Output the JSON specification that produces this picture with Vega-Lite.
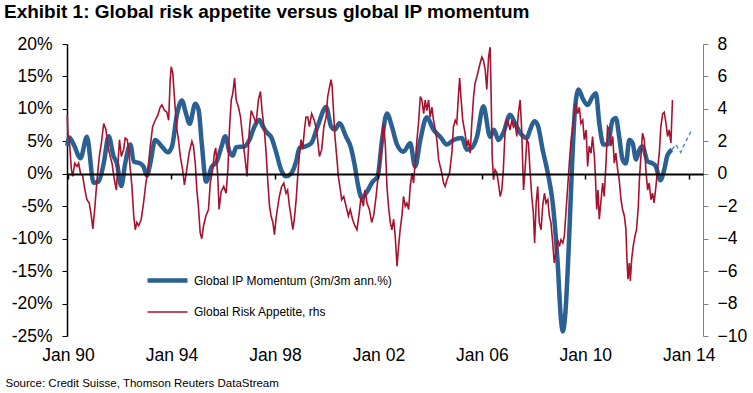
{
"$schema": "https://vega.github.io/schema/vega-lite/v6.json",
"width": 636, "height": 292,
"autosize": {"type": "none"},
"padding": {"left": 67, "top": 44, "right": 50, "bottom": 57},
"background": "white",
"config": {
  "view": {"stroke": null},
  "font": "Liberation Sans",
  "axis": {"grid": false, "labelFont": "Liberation Sans", "labelColor": "#000", "labelFontSize": 17.5, "labelOverlap": false},
  "legend": {"orient": "none", "legendX": 78, "legendY": 214, "symbolType": "stroke", "symbolSize": 1600, "labelFont": "Liberation Sans", "labelFontSize": 12, "labelColor": "#000", "labelOffset": 4, "labelLimit": 400, "rowPadding": 1}
},
"title": {"text": "Exhibit 1: Global risk appetite versus global IP momentum", "anchor": "start", "frame": "group", "orient": "top", "dx": -63, "offset": -2, "baseline": "alphabetic", "font": "Liberation Sans", "fontSize": 19, "fontWeight": "bold", "color": "#000"},
"datasets": {
"ip": [{"t":1989.97,"v":4.3},{"t":1990.05,"v":5.6},{"t":1990.22,"v":4.5},{"t":1990.48,"v":2.4},{"t":1990.73,"v":5.7},{"t":1990.99,"v":-1.4},{"t":1991.18,"v":-1.2},{"t":1991.38,"v":1.6},{"t":1991.57,"v":5.8},{"t":1991.76,"v":2.7},{"t":1991.89,"v":1.6},{"t":1992.06,"v":-1.9},{"t":1992.21,"v":1.6},{"t":1992.41,"v":4.5},{"t":1992.54,"v":1.9},{"t":1992.79,"v":1.6},{"t":1992.92,"v":1.1},{"t":1993.05,"v":-0.3},{"t":1993.18,"v":1.6},{"t":1993.37,"v":5.2},{"t":1993.63,"v":4.2},{"t":1993.86,"v":3.3},{"t":1994.02,"v":4.2},{"t":1994.21,"v":9.1},{"t":1994.40,"v":11.3},{"t":1994.56,"v":9.3},{"t":1994.70,"v":7.7},{"t":1994.92,"v":10.8},{"t":1995.05,"v":9.8},{"t":1995.17,"v":4.7},{"t":1995.34,"v":-1.2},{"t":1995.56,"v":1.1},{"t":1995.75,"v":1.9},{"t":1995.92,"v":4.0},{"t":1996.08,"v":5.8},{"t":1996.24,"v":3.4},{"t":1996.37,"v":2.8},{"t":1996.50,"v":4.1},{"t":1996.82,"v":4.2},{"t":1997.01,"v":5.2},{"t":1997.21,"v":7.3},{"t":1997.40,"v":8.3},{"t":1997.53,"v":7.3},{"t":1997.72,"v":6.2},{"t":1997.85,"v":5.7},{"t":1998.04,"v":3.4},{"t":1998.24,"v":0.6},{"t":1998.43,"v":-0.4},{"t":1998.62,"v":0.0},{"t":1998.82,"v":1.9},{"t":1998.95,"v":4.0},{"t":1999.16,"v":4.2},{"t":1999.40,"v":4.7},{"t":1999.65,"v":7.3},{"t":1999.98,"v":10.3},{"t":2000.17,"v":7.3},{"t":2000.32,"v":6.8},{"t":2000.49,"v":7.8},{"t":2000.75,"v":5.7},{"t":2000.94,"v":4.0},{"t":2001.07,"v":1.6},{"t":2001.22,"v":-1.9},{"t":2001.35,"v":-3.7},{"t":2001.52,"v":-3.0},{"t":2001.78,"v":-1.2},{"t":2001.97,"v":-0.4},{"t":2002.14,"v":5.2},{"t":2002.33,"v":9.3},{"t":2002.52,"v":7.3},{"t":2002.72,"v":4.5},{"t":2002.97,"v":3.4},{"t":2003.23,"v":4.7},{"t":2003.42,"v":1.1},{"t":2003.62,"v":5.2},{"t":2003.87,"v":8.7},{"t":2004.13,"v":6.8},{"t":2004.39,"v":5.7},{"t":2004.65,"v":4.5},{"t":2004.90,"v":5.2},{"t":2005.23,"v":5.5},{"t":2005.42,"v":3.7},{"t":2005.61,"v":4.0},{"t":2005.81,"v":5.7},{"t":2006.06,"v":10.4},{"t":2006.32,"v":5.7},{"t":2006.47,"v":6.8},{"t":2006.64,"v":5.2},{"t":2006.83,"v":6.3},{"t":2007.09,"v":9.1},{"t":2007.28,"v":7.8},{"t":2007.48,"v":6.3},{"t":2007.74,"v":5.5},{"t":2007.84,"v":6.5},{"t":2008.03,"v":8.1},{"t":2008.16,"v":7.5},{"t":2008.35,"v":3.7},{"t":2008.55,"v":0.1},{"t":2008.74,"v":-4.5},{"t":2008.93,"v":-13.7},{"t":2009.06,"v":-22.5},{"t":2009.13,"v":-24.3},{"t":2009.23,"v":-21.4},{"t":2009.36,"v":-11.2},{"t":2009.49,"v":1.6},{"t":2009.61,"v":10.4},{"t":2009.74,"v":13.0},{"t":2009.90,"v":11.6},{"t":2010.09,"v":10.6},{"t":2010.28,"v":11.9},{"t":2010.41,"v":12.4},{"t":2010.54,"v":7.8},{"t":2010.70,"v":4.5},{"t":2010.86,"v":4.5},{"t":2011.06,"v":8.3},{"t":2011.18,"v":8.6},{"t":2011.31,"v":5.7},{"t":2011.44,"v":2.2},{"t":2011.57,"v":1.6},{"t":2011.70,"v":5.2},{"t":2011.83,"v":4.7},{"t":2011.96,"v":2.2},{"t":2012.09,"v":3.7},{"t":2012.21,"v":4.2},{"t":2012.41,"v":1.9},{"t":2012.60,"v":1.6},{"t":2012.73,"v":1.1},{"t":2012.90,"v":-1.0},{"t":2013.05,"v":0.6},{"t":2013.18,"v":2.9},{"t":2013.35,"v":3.7}],
"ipf": [{"t":2013.35,"v":3.7},{"t":2013.50,"v":4.5},{"t":2013.69,"v":3.3},{"t":2013.89,"v":5.0},{"t":2014.08,"v":6.5}],
"ra": [{"t":1989.97,"v":3.6},{"t":1990.00,"v":2.3},{"t":1990.05,"v":2.1},{"t":1990.13,"v":0.25},{"t":1990.18,"v":-0.16},{"t":1990.26,"v":0.65},{"t":1990.35,"v":0.45},{"t":1990.41,"v":0.65},{"t":1990.48,"v":0.04},{"t":1990.57,"v":-0.16},{"t":1990.64,"v":-0.88},{"t":1990.73,"v":-1.6},{"t":1990.82,"v":-1.8},{"t":1990.90,"v":-2.6},{"t":1990.96,"v":-3.4},{"t":1991.03,"v":-2.2},{"t":1991.12,"v":-0.37},{"t":1991.21,"v":1.07},{"t":1991.29,"v":1.9},{"t":1991.38,"v":3.1},{"t":1991.47,"v":2.7},{"t":1991.54,"v":1.7},{"t":1991.63,"v":1.07},{"t":1991.70,"v":0.65},{"t":1991.79,"v":-0.37},{"t":1991.87,"v":-1.0},{"t":1991.93,"v":0.65},{"t":1991.99,"v":2.1},{"t":1992.06,"v":1.07},{"t":1992.15,"v":1.5},{"t":1992.21,"v":2.2},{"t":1992.29,"v":2.1},{"t":1992.34,"v":1.5},{"t":1992.41,"v":0.25},{"t":1992.47,"v":-0.78},{"t":1992.54,"v":-2.6},{"t":1992.60,"v":-3.45},{"t":1992.66,"v":-3.0},{"t":1992.73,"v":-3.2},{"t":1992.83,"v":-2.8},{"t":1992.92,"v":-1.8},{"t":1993.01,"v":-0.57},{"t":1993.09,"v":0.25},{"t":1993.18,"v":1.7},{"t":1993.27,"v":2.9},{"t":1993.37,"v":3.3},{"t":1993.47,"v":3.6},{"t":1993.56,"v":4.1},{"t":1993.63,"v":4.25},{"t":1993.73,"v":3.9},{"t":1993.82,"v":3.8},{"t":1993.89,"v":3.3},{"t":1993.95,"v":5.8},{"t":1993.99,"v":6.6},{"t":1994.05,"v":6.2},{"t":1994.14,"v":4.1},{"t":1994.21,"v":2.7},{"t":1994.27,"v":2.1},{"t":1994.34,"v":1.07},{"t":1994.43,"v":0.25},{"t":1994.50,"v":-0.68},{"t":1994.59,"v":0.25},{"t":1994.68,"v":1.27},{"t":1994.79,"v":2.0},{"t":1994.85,"v":1.7},{"t":1994.92,"v":0.65},{"t":1994.98,"v":-1.0},{"t":1995.04,"v":-2.0},{"t":1995.11,"v":-3.65},{"t":1995.17,"v":-4.0},{"t":1995.24,"v":-3.2},{"t":1995.33,"v":-2.6},{"t":1995.43,"v":-2.2},{"t":1995.50,"v":-0.57},{"t":1995.59,"v":0.25},{"t":1995.66,"v":1.27},{"t":1995.71,"v":1.6},{"t":1995.79,"v":-0.16},{"t":1995.84,"v":-2.2},{"t":1995.92,"v":-1.1},{"t":1996.02,"v":-0.78},{"t":1996.11,"v":-1.2},{"t":1996.18,"v":0.25},{"t":1996.24,"v":2.7},{"t":1996.31,"v":4.55},{"t":1996.37,"v":4.96},{"t":1996.44,"v":5.9},{"t":1996.50,"v":4.55},{"t":1996.59,"v":4.1},{"t":1996.67,"v":3.5},{"t":1996.76,"v":2.1},{"t":1996.85,"v":0.86},{"t":1996.92,"v":-0.16},{"t":1997.01,"v":2.7},{"t":1997.08,"v":3.9},{"t":1997.18,"v":3.5},{"t":1997.27,"v":3.1},{"t":1997.36,"v":4.55},{"t":1997.44,"v":5.07},{"t":1997.50,"v":3.9},{"t":1997.59,"v":2.7},{"t":1997.66,"v":1.27},{"t":1997.72,"v":-0.37},{"t":1997.79,"v":-2.0},{"t":1997.85,"v":-2.6},{"t":1997.92,"v":-3.0},{"t":1997.98,"v":-3.75},{"t":1998.04,"v":-2.8},{"t":1998.11,"v":-2.0},{"t":1998.17,"v":-1.4},{"t":1998.26,"v":-0.78},{"t":1998.34,"v":-0.57},{"t":1998.43,"v":-1.2},{"t":1998.49,"v":-1.0},{"t":1998.56,"v":-2.0},{"t":1998.62,"v":-2.6},{"t":1998.69,"v":-3.45},{"t":1998.75,"v":-2.8},{"t":1998.82,"v":-1.6},{"t":1998.88,"v":-0.16},{"t":1998.95,"v":1.27},{"t":1999.01,"v":2.1},{"t":1999.07,"v":1.5},{"t":1999.14,"v":2.7},{"t":1999.20,"v":3.5},{"t":1999.27,"v":3.5},{"t":1999.33,"v":2.9},{"t":1999.42,"v":3.7},{"t":1999.52,"v":3.3},{"t":1999.61,"v":2.7},{"t":1999.72,"v":1.07},{"t":1999.81,"v":1.5},{"t":1999.89,"v":2.9},{"t":1999.98,"v":3.5},{"t":2000.04,"v":4.76},{"t":2000.10,"v":5.27},{"t":2000.17,"v":5.8},{"t":2000.21,"v":5.4},{"t":2000.27,"v":3.7},{"t":2000.32,"v":2.3},{"t":2000.40,"v":0.86},{"t":2000.45,"v":-0.16},{"t":2000.53,"v":-1.0},{"t":2000.58,"v":-1.6},{"t":2000.66,"v":-1.4},{"t":2000.75,"v":-2.0},{"t":2000.84,"v":-2.6},{"t":2000.91,"v":-2.2},{"t":2001.00,"v":-2.8},{"t":2001.09,"v":-3.2},{"t":2001.17,"v":-3.45},{"t":2001.26,"v":-2.4},{"t":2001.33,"v":-1.4},{"t":2001.42,"v":-2.0},{"t":2001.48,"v":-1.0},{"t":2001.56,"v":-1.8},{"t":2001.65,"v":-2.2},{"t":2001.74,"v":-3.0},{"t":2001.82,"v":-2.55},{"t":2001.91,"v":-1.4},{"t":2001.97,"v":-0.45},{"t":2002.05,"v":0.65},{"t":2002.14,"v":2.1},{"t":2002.20,"v":3.1},{"t":2002.27,"v":1.7},{"t":2002.33,"v":-0.78},{"t":2002.39,"v":-2.0},{"t":2002.46,"v":-3.0},{"t":2002.52,"v":-3.45},{"t":2002.59,"v":-2.8},{"t":2002.65,"v":-3.85},{"t":2002.72,"v":-5.7},{"t":2002.78,"v":-4.5},{"t":2002.84,"v":-3.45},{"t":2002.91,"v":-2.6},{"t":2002.97,"v":-1.4},{"t":2003.04,"v":-2.0},{"t":2003.10,"v":-1.8},{"t":2003.17,"v":-2.2},{"t":2003.23,"v":-0.78},{"t":2003.30,"v":0.04},{"t":2003.36,"v":-0.57},{"t":2003.42,"v":0.65},{"t":2003.49,"v":2.1},{"t":2003.55,"v":3.1},{"t":2003.62,"v":4.76},{"t":2003.68,"v":4.55},{"t":2003.75,"v":3.7},{"t":2003.81,"v":4.55},{"t":2003.87,"v":3.9},{"t":2003.94,"v":4.55},{"t":2004.00,"v":3.5},{"t":2004.07,"v":4.1},{"t":2004.13,"v":3.3},{"t":2004.20,"v":2.7},{"t":2004.26,"v":2.1},{"t":2004.33,"v":0.86},{"t":2004.39,"v":0.45},{"t":2004.45,"v":0.04},{"t":2004.52,"v":-0.57},{"t":2004.58,"v":-0.78},{"t":2004.65,"v":-0.37},{"t":2004.75,"v":0.04},{"t":2004.84,"v":1.27},{"t":2004.90,"v":2.9},{"t":2004.97,"v":3.3},{"t":2005.03,"v":3.1},{"t":2005.10,"v":4.96},{"t":2005.14,"v":5.9},{"t":2005.19,"v":4.76},{"t":2005.26,"v":3.3},{"t":2005.35,"v":2.5},{"t":2005.42,"v":1.7},{"t":2005.48,"v":2.1},{"t":2005.55,"v":1.27},{"t":2005.61,"v":3.1},{"t":2005.68,"v":4.76},{"t":2005.74,"v":5.6},{"t":2005.81,"v":6.0},{"t":2005.87,"v":6.4},{"t":2005.93,"v":6.8},{"t":2006.00,"v":7.2},{"t":2006.06,"v":7.0},{"t":2006.13,"v":6.4},{"t":2006.19,"v":5.2},{"t":2006.26,"v":7.2},{"t":2006.32,"v":7.8},{"t":2006.36,"v":4.76},{"t":2006.40,"v":1.07},{"t":2006.45,"v":-0.37},{"t":2006.51,"v":0.25},{"t":2006.58,"v":0.04},{"t":2006.64,"v":-0.57},{"t":2006.71,"v":-1.4},{"t":2006.77,"v":-1.0},{"t":2006.83,"v":0.25},{"t":2006.90,"v":2.7},{"t":2006.96,"v":3.3},{"t":2007.03,"v":3.1},{"t":2007.09,"v":2.7},{"t":2007.16,"v":3.3},{"t":2007.22,"v":2.9},{"t":2007.29,"v":3.1},{"t":2007.35,"v":2.3},{"t":2007.41,"v":3.7},{"t":2007.48,"v":4.55},{"t":2007.54,"v":2.7},{"t":2007.61,"v":-1.0},{"t":2007.67,"v":0.25},{"t":2007.74,"v":2.1},{"t":2007.80,"v":1.9},{"t":2007.86,"v":0.25},{"t":2007.93,"v":-1.4},{"t":2007.99,"v":-2.4},{"t":2008.04,"v":-4.27},{"t":2008.10,"v":-1.8},{"t":2008.16,"v":-0.78},{"t":2008.22,"v":-3.0},{"t":2008.29,"v":-3.45},{"t":2008.35,"v":-2.0},{"t":2008.42,"v":-1.2},{"t":2008.48,"v":-1.8},{"t":2008.55,"v":-1.6},{"t":2008.61,"v":-2.6},{"t":2008.67,"v":-3.0},{"t":2008.74,"v":-4.27},{"t":2008.80,"v":-5.5},{"t":2008.87,"v":-4.7},{"t":2008.93,"v":-4.06},{"t":2009.00,"v":-4.47},{"t":2009.06,"v":-4.06},{"t":2009.13,"v":-4.27},{"t":2009.19,"v":-3.85},{"t":2009.25,"v":-2.4},{"t":2009.32,"v":-0.78},{"t":2009.38,"v":0.65},{"t":2009.45,"v":2.1},{"t":2009.51,"v":2.9},{"t":2009.58,"v":3.7},{"t":2009.64,"v":4.35},{"t":2009.70,"v":3.7},{"t":2009.77,"v":4.1},{"t":2009.83,"v":3.1},{"t":2009.90,"v":3.3},{"t":2009.96,"v":2.1},{"t":2010.03,"v":2.7},{"t":2010.09,"v":0.45},{"t":2010.15,"v":1.7},{"t":2010.22,"v":1.27},{"t":2010.28,"v":2.3},{"t":2010.35,"v":1.07},{"t":2010.39,"v":-0.16},{"t":2010.44,"v":-2.2},{"t":2010.49,"v":-1.0},{"t":2010.54,"v":-2.8},{"t":2010.61,"v":-1.6},{"t":2010.67,"v":-0.57},{"t":2010.73,"v":-1.4},{"t":2010.80,"v":0.65},{"t":2010.86,"v":2.9},{"t":2010.93,"v":2.7},{"t":2010.99,"v":1.7},{"t":2011.06,"v":2.3},{"t":2011.12,"v":0.65},{"t":2011.18,"v":1.27},{"t":2011.25,"v":0.25},{"t":2011.31,"v":-0.37},{"t":2011.38,"v":-1.6},{"t":2011.44,"v":-2.2},{"t":2011.51,"v":-2.6},{"t":2011.57,"v":-3.45},{"t":2011.61,"v":-5.3},{"t":2011.65,"v":-6.5},{"t":2011.70,"v":-5.5},{"t":2011.74,"v":-6.6},{"t":2011.79,"v":-5.3},{"t":2011.85,"v":-4.47},{"t":2011.92,"v":-3.85},{"t":2011.98,"v":-3.45},{"t":2012.05,"v":-2.0},{"t":2012.09,"v":-0.37},{"t":2012.15,"v":1.07},{"t":2012.21,"v":2.5},{"t":2012.28,"v":2.1},{"t":2012.34,"v":0.25},{"t":2012.41,"v":-1.0},{"t":2012.47,"v":-0.57},{"t":2012.54,"v":-1.6},{"t":2012.60,"v":-1.2},{"t":2012.66,"v":-1.8},{"t":2012.73,"v":-0.78},{"t":2012.79,"v":0.25},{"t":2012.86,"v":1.27},{"t":2012.92,"v":2.9},{"t":2012.99,"v":3.7},{"t":2013.05,"v":3.8},{"t":2013.12,"v":3.1},{"t":2013.18,"v":2.3},{"t":2013.24,"v":2.7},{"t":2013.31,"v":1.9},{"t":2013.37,"v":4.55}]
},
"layer": [
  {
    "layer": [
      {
        "data": {"name": "ip"},
        "mark": {"type": "line", "interpolate": "monotone"},
        "encoding": {
          "x": {"field": "t", "type": "quantitative", "scale": {"domain": [1989.96, 2014.55], "nice": false, "zero": false},
                "axis": {"values": [1990, 1994, 1998, 2002, 2006, 2010, 2014], "tickCount": 30, "labelExpr": "'Jan ' + substring(toString(datum.value), 2, 4)", "domain": false, "ticks": false, "labelPadding": 10, "labelFlush": false,
                         "title": "Source: Credit Suisse, Thomson Reuters DataStream", "titleX": -62, "titleY": 50, "titleAlign": "left", "titleAnchor": null, "titleBaseline": "alphabetic", "titleFont": "Liberation Sans", "titleFontSize": 11.5, "titleFontWeight": "normal", "titleColor": "#000"}},
          "y": {"field": "v", "type": "quantitative", "scale": {"domain": [-25, 20], "nice": false, "zero": false},
                "axis": {"values": [-25, -20, -15, -10, -5, 0, 5, 10, 15, 20], "tickCount": 20, "labelOverlap": false, "labelExpr": "datum.value + '%'", "domainColor": "#000", "domainWidth": 1.5, "tickColor": "#000", "tickSize": 5, "labelPadding": 10, "title": null}},
          "color": {"datum": "Global IP Momentum (3m/3m ann.%)", "type": "nominal", "scale": {"domain": ["Global IP Momentum (3m/3m ann.%)", "Global Risk Appetite, rhs"], "range": ["#2A6192", "#A6122F"]}, "legend": {"title": null}},
          "strokeWidth": {"datum": "Global IP Momentum (3m/3m ann.%)", "type": "nominal", "scale": {"domain": ["Global IP Momentum (3m/3m ann.%)", "Global Risk Appetite, rhs"], "range": [4.5, 1.6]}, "legend": {"title": null}}
        }
      },
      {
        "data": {"name": "ipf"},
        "mark": {"type": "line", "color": "#4F8DC4", "strokeWidth": 1.5, "strokeDash": [4, 3]},
        "encoding": {"x": {"field": "t", "type": "quantitative"}, "y": {"field": "v", "type": "quantitative"}}
      },
      {
        "mark": {"type": "rule", "color": "#9A9A9A", "strokeWidth": 6, "opacity": 0.35, "strokeDash": [10, 4]},
        "encoding": {"x": {"datum": 2007.2}, "x2": {"datum": 2013.62}, "y": {"datum": 11.1}}
      },
      {
        "mark": {"type": "rule", "color": "#FF0000", "strokeWidth": 3, "strokeDash": [10, 5]},
        "encoding": {"x": {"datum": 2007.05}, "x2": {"datum": 2013.36}, "y": {"datum": 12.0}}
      },
      {
        "mark": {"type": "point", "shape": "triangle-left", "filled": true, "color": "#FF0000", "opacity": 1, "size": 230},
        "encoding": {"x": {"datum": 2006.78}, "y": {"datum": 12.0}}
      },
      {
        "mark": {"type": "rule", "color": "#A0A0A0", "strokeWidth": 1.5, "clip": false},
        "encoding": {"x": {"datum": 1987.57}, "x2": {"datum": 2016.45}, "y": {"datum": 22.62}}
      },
      {
        "mark": {"type": "rule", "color": "#A0A0A0", "strokeWidth": 1.5, "clip": false},
        "encoding": {"x": {"datum": 1987.57}, "x2": {"datum": 2016.15}, "y": {"datum": -30.15}}
      }
    ]
  },
  {
    "layer": [
      {
        "data": {"name": "ra"},
        "mark": {"type": "line"},
        "encoding": {
          "x": {"field": "t", "type": "quantitative",
                "axis": {"orient": "bottom", "offset": -162, "values": [1990, 1994, 1998, 2002, 2006, 2010, 2014], "tickCount": 30, "labels": false, "domain": true, "domainColor": "#000", "domainWidth": 2, "ticks": true, "tickColor": "#000", "tickSize": 5, "tickWidth": 1.5, "title": null, "zindex": 1}},
          "y": {"field": "v", "type": "quantitative", "scale": {"domain": [-10, 8], "nice": false, "zero": false},
                "axis": {"orient": "right", "values": [-10, -8, -6, -4, -2, 0, 2, 4, 6, 8], "tickCount": 20, "labelOverlap": false, "domainColor": "#808080", "tickColor": "#808080", "tickSize": 5, "labelPadding": 9, "title": null}},
          "color": {"datum": "Global Risk Appetite, rhs", "type": "nominal"},
          "strokeWidth": {"datum": "Global Risk Appetite, rhs", "type": "nominal"}
        }
      },
      {
        "mark": {"type": "text", "text": "?", "font": "Liberation Sans", "fontSize": 28, "fontWeight": "bold", "color": "#1F4F8A", "align": "center", "baseline": "middle"},
        "encoding": {"x": {"datum": 2013.75}, "y": {"datum": 3.45}}
      }
    ]
  }
],
"resolve": {"scale": {"y": "independent"}, "axis": {"x": "independent"}}
}
